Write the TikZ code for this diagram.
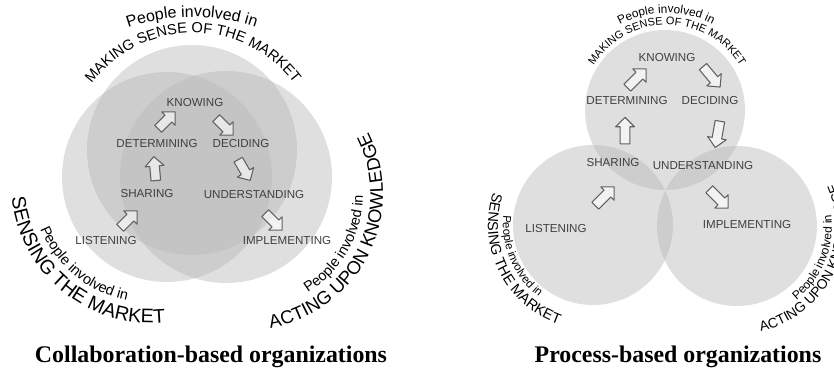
\documentclass[tikz,border=0pt]{standalone}
\usepackage{fontspec}
\setmainfont{Liberation Serif}
\setsansfont{Liberation Sans}
\usetikzlibrary{shapes.arrows,decorations.text}
\definecolor{zonegray}{rgb}{0.72,0.72,0.72}
\definecolor{labelgray}{rgb}{0.25,0.25,0.25}
\definecolor{arrowgray}{rgb}{0.38,0.38,0.38}
\newcommand\arcsize[1]{\fontsize{#1}{#1}\sffamily\selectfont}

\begin{document}
\begin{tikzpicture}[line cap=round,line join=round,x=0.75pt,y=0.75pt,
    zone/.style={fill=zonegray,fill opacity=0.45},
    stage/.style={font=\fontsize{8.7pt}{10pt}\sffamily,text=labelgray,inner sep=1pt},
    flow/.style={single arrow,draw=arrowgray,line width=0.8pt,fill=white,fill opacity=0.6,
        minimum height=18pt,inner sep=3.2pt,single arrow head extend=3.5pt,single arrow tip angle=90,rotate=#1},
    flowbig/.style={flow=#1,minimum height=20pt},
    arclabel/.style={decorate,decoration={text along path,text align=center,text={#1}}},
    caption/.style={font=\fontsize{17.9pt}{20pt}\selectfont\bfseries,anchor=base}]

    \useasboundingbox (0,0) rectangle (834,370);

    % collaboration-based
    \fill[zone] (167,193) circle (105);
    \fill[zone] (192,220) circle (105);
    \fill[zone] (226,193) circle (106);

    \node[stage] (kno) at (195,267) {KNOWING};
    \node[stage] (det) at (157,226) {DETERMINING};
    \node[stage] (dec) at (241,226) {DECIDING};
    \node[stage] (sha) at (147,176) {SHARING};
    \node[stage] (und) at (254,175) {UNDERSTANDING};
    \node[stage] (lis) at (106,129) {LISTENING};
    \node[stage] (imp) at (287,129) {IMPLEMENTING};

    \node[flow=45] (a1) at (127,149) {};
    \node[flow=95] (a2) at (155,199) {};
    \node[flow=45] (a3) at (165,248) {};
    \node[flow=-45] (a4) at (223,245) {};
    \node[flow=-60] (a5) at (243,202) {};
    \node[flow=-45] (a6) at (272,150) {};

    \path[arclabel={|\arcsize{12pt}|People involved in}] (192,155.5) ++(145:197.5) arc[start angle=145,end angle=35,radius=197.5];
    \path[arclabel={|\arcsize{11pt}|MAKING SENSE OF THE MARKET}] (193,210.5) ++(170:126.5) arc[start angle=170,end angle=10,radius=126.5];
    \path[arclabel={|\arcsize{14.7pt}|SENSING THE MARKET}] (151,187) ++(151:140) arc[start angle=151,end angle=311,radius=140];
    \path[arclabel={|\arcsize{10.8pt}|People involved in}] (151,187) ++(160.5:120) arc[start angle=160.5,end angle=300.5,radius=120];
    \path[arclabel={|\arcsize{13.9pt}|ACTING UPON KNOWLEDGE}] (247,176) ++(-106.5:136) arc[start angle=-106.5,end angle=53.5,radius=136];
    \path[arclabel={|\arcsize{10.8pt}|People involved in}] (247,176) ++(-99.5:116) arc[start angle=-99.5,end angle=40.5,radius=116];

    \node[caption] (capl) at (211,7) {Collaboration-based organizations};

    % process-based
    \fill[zone] (665,260) circle (80);
    \fill[zone] (593,145) circle (80);
    \fill[zone] (737,144) circle (80);

    \node[stage] (pkno) at (667,312) {KNOWING};
    \node[stage] (pdet) at (627,269) {DETERMINING};
    \node[stage] (pdec) at (710,269) {DECIDING};
    \node[stage] (psha) at (613,207) {SHARING};
    \node[stage] (pund) at (703,204) {UNDERSTANDING};
    \node[stage] (plis) at (556,141) {LISTENING};
    \node[stage] (pimp) at (747,145) {IMPLEMENTING};

    \node[flowbig=45] (b1) at (603,172) {};
    \node[flowbig=90] (b2) at (625,237) {};
    \node[flowbig=45] (b3) at (635,290) {};
    \node[flowbig=-50] (b4) at (710,295) {};
    \node[flowbig=-100] (b5) at (718,238) {};
    \node[flowbig=-45] (b6) at (717,173) {};

    \path[arclabel={|\arcsize{8.9pt}|People involved in}] (667,259) ++(160.5:98) arc[start angle=160.5,end angle=20.5,radius=98];
    \path[arclabel={|\arcsize{8.2pt}|MAKING SENSE OF THE MARKET}] (667,259) ++(175:86) arc[start angle=175,end angle=5,radius=86];
    \path[arclabel={|\arcsize{10.9pt}|SENSING THE MARKET}] (593,145) ++(121.4:105) arc[start angle=121.4,end angle=291.4,radius=105];
    \path[arclabel={|\arcsize{8.6pt}|People involved in}] (593,145) ++(133.3:90) arc[start angle=133.3,end angle=273.3,radius=90];
    \path[arclabel={|\arcsize{10.4pt}|ACTING UPON KNOWLEDGE}] (737,144) ++(-111.8:108) arc[start angle=-111.8,end angle=58.2,radius=108];
    \path[arclabel={|\arcsize{8.9pt}|People involved in}] (737,144) ++(-97.2:95) arc[start angle=-97.2,end angle=52.8,radius=95];

    \node[caption] (capr) at (678,7) {Process-based organizations};
\end{tikzpicture}
\end{document}
